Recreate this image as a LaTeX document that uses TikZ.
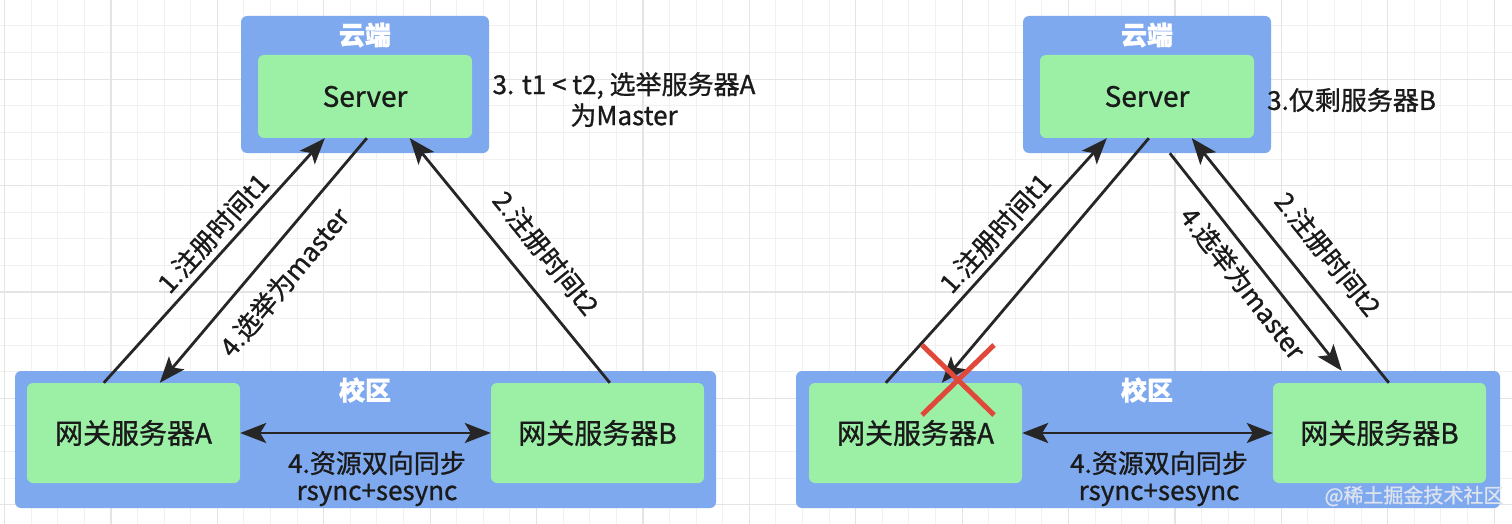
\documentclass[tikz,border=0pt]{standalone}
\usepackage{fontspec}
\setmainfont{Noto Sans CJK SC}[FakeBold=1]
\usetikzlibrary{arrows.meta,calc}
\definecolor{cblue}{HTML}{7EA9EE}
\definecolor{cgreen}{HTML}{9BF0A5}
\definecolor{cline}{HTML}{262626}
\definecolor{ctext}{HTML}{1A1A1A}
\definecolor{cred}{HTML}{E0483A}
\definecolor{gridmin}{HTML}{F1F1F1}
\definecolor{gridmaj}{HTML}{E4E4E4}
\definecolor{wmark}{HTML}{DCE3EE}
\tikzset{
  panel/.style={fill=cblue, rounded corners=6pt, inner sep=0pt},
  srvbox/.style={fill=cgreen, rounded corners=6pt, inner sep=0pt, text=ctext, font=\fontsize{28}{33}\selectfont},
  headtxt/.style={text=white, inner sep=0pt, font=\bfseries\fontsize{26}{30}\selectfont},
  lbl/.style={text=ctext, inner sep=0pt, font=\fontsize{26}{31}\selectfont},
  tip/.style={},
  conn/.style={draw=cline, line width=2.8pt, -{Stealth[length=26pt,width=20pt,inset=6pt]}},
  biconn/.style={draw=cline, line width=2.8pt, {Stealth[length=26pt,width=20pt,inset=6pt]}-{Stealth[length=26pt,width=20pt,inset=6pt]}},
  crossline/.style={draw=cred, line width=5pt},
}
\begin{document}
\begin{tikzpicture}[x=1pt,y=-1pt]
\path[use as bounding box] (0,0) rectangle (1512,524);
\fill[white] (0,0) rectangle (1512,524);
% grid
\foreach \i in {0,...,57} \draw[gridmin, line width=1pt] ({4.5+26.6*\i},0) -- ({4.5+26.6*\i},524);
\foreach \j in {0,...,20} \draw[gridmin, line width=1pt] (0,{-0.6+26.6*\j}) -- (1512,{-0.6+26.6*\j});
\foreach \i in {0,...,14} \draw[gridmaj, line width=1.2pt] ({4.5+106.4*\i},0) -- ({4.5+106.4*\i},524);
\foreach \j in {0,...,4} \draw[gridmaj, line width=1.2pt] (0,{79.2+106.4*\j}) -- (1512,{79.2+106.4*\j});

% ===== left panel =====
\node[panel, minimum width=248pt, minimum height=137pt] (cloudL) at (365,84.5) {};
\node[headtxt] (cloudLt) at (365,35) {云端};
\node[srvbox, minimum width=214pt, minimum height=83pt] (srvL) at (365,96.5) {Server};
\node[panel, minimum width=701pt, minimum height=137pt] (campL) at (365.5,439.5) {};
\node[headtxt] (campLt) at (365,390) {校区};
\node[srvbox, minimum width=213pt, minimum height=100pt] (gAL) at (133.5,433) {网关服务器A};
\node[srvbox, minimum width=213pt, minimum height=100pt] (gBL) at (597.5,433) {网关服务器B};
\node[lbl] (syncL) at (377,463) {4.资源双向同步};
\node[lbl] (rsyncL) at (377,495) {rsync+sesync};
\node[lbl, align=center] (noteL) at (624,99.5) {3. t1 < t2, 选举服务器A\\为Master};

\coordinate (a1L) at ($(gAL.north west)+(77,0)$);
\coordinate (s1L) at ($(srvL.south west)+(67,0)$);
\coordinate (s4L) at ($(srvL.south west)+(109,0)$);
\coordinate (a4L) at ($(gAL.north west)+(133,0)$);
\coordinate (b2L) at ($(gBL.north west)+(119,0)$);
\coordinate (s2L) at ($(srvL.south west)+(152,0)$);
\draw[conn] (a1L) -- (s1L);
\draw[conn] (s4L) -- (a4L);
\draw[conn] (b2L) -- (s2L);
\draw[biconn] (gAL.east) -- (gBL.west);
\node[lbl, rotate=47.7] (l1L) at (213,233) {1.注册时间t1};
\node[lbl, rotate=50] (l4L) at (284,282) {4.选举为master};
\node[lbl, rotate=-51] (l2L) at (546,253) {2.注册时间t2};

% ===== right panel =====
\node[panel, minimum width=248pt, minimum height=137pt] (cloudR) at (1147,84.5) {};
\node[headtxt] (cloudRt) at (1147,35) {云端};
\node[srvbox, minimum width=214pt, minimum height=83pt] (srvR) at (1147,96.5) {Server};
\node[panel, minimum width=704pt, minimum height=137pt] (campR) at (1148,439.5) {};
\node[headtxt] (campRt) at (1147,390) {校区};
\node[srvbox, minimum width=213pt, minimum height=100pt] (gAR) at (915.5,433) {网关服务器A};
\node[srvbox, minimum width=213pt, minimum height=100pt] (gBR) at (1379.5,433) {网关服务器B};
\node[lbl] (syncR) at (1159,463) {4.资源双向同步};
\node[lbl] (rsyncR) at (1159,495) {rsync+sesync};
\node[lbl, anchor=west] (noteR) at (1267,100) {3.仅剩服务器B};

\coordinate (a1R) at ($(gAR.north west)+(77,0)$);
\coordinate (s1R) at ($(srvR.south west)+(67,0)$);
\coordinate (s4R) at ($(srvR.south west)+(109,0)$);
\coordinate (a4R) at ($(gAR.north west)+(133,0)$);
\coordinate (b2R) at ($(gBR.north west)+(116,0)$);
\coordinate (s2R) at ($(srvR.south west)+(152,0)$);
\coordinate (c4R) at ($(cloudR.south west)+(147,0)$);
\coordinate (m4R) at ($(campR.north west)+(546,0)$);
\draw[conn] (a1R) -- (s1R);
\draw[conn] (s4R) -- (a4R);
\draw[conn] (b2R) -- (s2R);
\draw[conn] (c4R) -- (m4R);
\draw[biconn] (gAR.east) -- (gBR.west);
\node[lbl, rotate=47.7] (l1R) at (995,233) {1.注册时间t1};
\node[lbl, rotate=-52] (l4R) at (1243,283) {4.选举为master};
\node[lbl, rotate=-51] (l2R) at (1328,254) {2.注册时间t2};

% failure cross
\coordinate (xc) at (958,380);
\draw[crossline] ($(xc)+(-36,-35)$) -- ($(xc)+(36,35)$);
\draw[crossline] ($(xc)+(36,-35)$) -- ($(xc)+(-36,35)$);

% watermark
\node[text=wmark, inner sep=0pt, font=\fontsize{20}{24}\selectfont] (wm) at (1414,496) {@稀土掘金技术社区};
\end{tikzpicture}
\end{document}
